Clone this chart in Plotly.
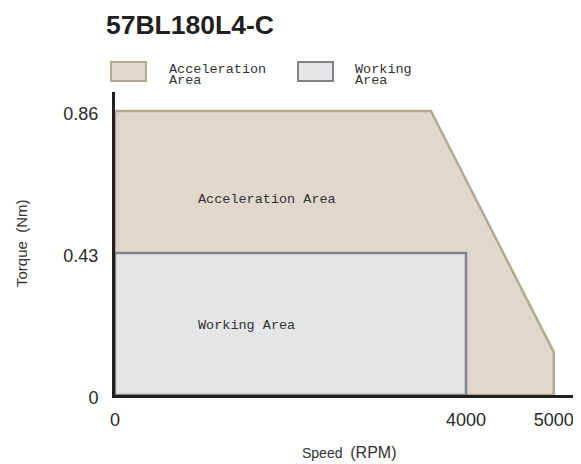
import plotly.graph_objects as go

# ---- data ----
accel_speed = [0, 3600, 5000, 5000, 0, 0]
accel_torque = [0.86, 0.86, 0.13, 0, 0, 0.86]
work_speed = [0, 4000, 4000, 0, 0]
work_torque = [0.43, 0.43, 0, 0, 0.43]
x_ticks = [0, 4000, 5000]
x_tick_labels = ["0", "4000", "5000"]
y_ticks = [0, 0.43, 0.86]
y_tick_labels = ["0", "0.43", "0.86"]

# page has an 8px body margin: the figure starts at (8, 8)
OFF = 8
W, H = 581 - OFF, 464 - OFF
L, R, T, B = 115 - OFF, 1, 92 - OFF, 69
PW, PH = W - L - R, H - T - B


def px(x):  # page pixel -> paper x
    return (x - OFF - L) / PW


def py(y):  # page pixel -> paper y
    return (H - B - (y - OFF)) / PH


ACC_FILL, ACC_LINE = "#e0d8cd", "#b5a890"
WRK_FILL, WRK_LINE = "#e4e5e7", "#808388"

fig = go.Figure()
fig.add_trace(go.Scatter(x=accel_speed, y=accel_torque, mode="lines", fill="toself",
                         fillcolor=ACC_FILL, line=dict(color=ACC_LINE, width=2.5),
                         hoverinfo="skip", showlegend=False))
fig.add_trace(go.Scatter(x=work_speed, y=work_torque, mode="lines", fill="toself",
                         fillcolor=WRK_FILL, line=dict(color=WRK_LINE, width=2.5),
                         hoverinfo="skip", showlegend=False))

mono = dict(family="Liberation Mono, DejaVu Sans Mono, monospace", size=13.5, color="#333333")
sans = "Liberation Sans, Arial, sans-serif"
lab = dict(family=sans, size=14, color="#333333")

annotations = [
    dict(x=px(104), y=py(25), xref="paper", yref="paper", xanchor="left", yanchor="middle",
         text="<b>57BL180L4-C</b>", showarrow=False,
         font=dict(family=sans, size=26.5, color="#231f20")),
    dict(x=px(167), y=py(69), xref="paper", yref="paper", xanchor="left", yanchor="middle",
         text="Acceleration", showarrow=False, font=mono),
    dict(x=px(167), y=py(81), xref="paper", yref="paper", xanchor="left", yanchor="middle",
         text="Area", showarrow=False, font=mono),
    dict(x=px(353), y=py(69), xref="paper", yref="paper", xanchor="left", yanchor="middle",
         text="Working", showarrow=False, font=mono),
    dict(x=px(353), y=py(81), xref="paper", yref="paper", xanchor="left", yanchor="middle",
         text="Area", showarrow=False, font=mono),
    dict(x=px(267), y=py(199), xref="paper", yref="paper", xanchor="center", yanchor="middle",
         text="Acceleration Area", showarrow=False, font=mono),
    dict(x=px(246), y=py(325), xref="paper", yref="paper", xanchor="center", yanchor="middle",
         text="Working Area", showarrow=False, font=mono),
    dict(x=px(349), y=py(452), xref="paper", yref="paper", xanchor="center", yanchor="middle",
         text="Speed  <span style='font-size:16px'>(RPM)</span>", showarrow=False, font=lab),
    dict(x=px(21), y=py(243), xref="paper", yref="paper", xanchor="center", yanchor="middle",
         text="Torque  (Nm)", textangle=-90, showarrow=False,
         font=dict(family=sans, size=15, color="#333333")),
]

shapes = [
    dict(type="rect", xref="paper", yref="paper", x0=px(111), x1=px(146), y0=py(62), y1=py(81),
         fillcolor=ACC_FILL, line=dict(color=ACC_LINE, width=2)),
    dict(type="rect", xref="paper", yref="paper", x0=px(298), x1=px(333), y0=py(62), y1=py(81),
         fillcolor=WRK_FILL, line=dict(color=WRK_LINE, width=2)),
]

fig.update_layout(
    width=W, height=H,
    margin=dict(l=L, r=R, t=T, b=B, pad=0),
    paper_bgcolor="white", plot_bgcolor="white",
    showlegend=False,
    annotations=annotations, shapes=shapes,
    xaxis=dict(range=[0, 5299], showgrid=False, zeroline=False, showline=True,
               linecolor="#231f20", linewidth=3, tickmode="array", tickvals=x_ticks,
               ticktext=x_tick_labels, ticks="outside", ticklen=6, tickcolor="rgba(0,0,0,0)",
               tickfont=dict(family=sans, size=18, color="#2b2b2b"), fixedrange=True),
    yaxis=dict(range=[0, 0.9176], showgrid=False, zeroline=False, showline=True,
               linecolor="#231f20", linewidth=3, tickmode="array", tickvals=y_ticks,
               ticktext=y_tick_labels, ticks="outside", ticklen=10, tickcolor="rgba(0,0,0,0)",
               ticklabelshift=3,
               tickfont=dict(family=sans, size=18, color="#2b2b2b"), fixedrange=True),
)

fig.write_html("out.html", config={"displayModeBar": False})
